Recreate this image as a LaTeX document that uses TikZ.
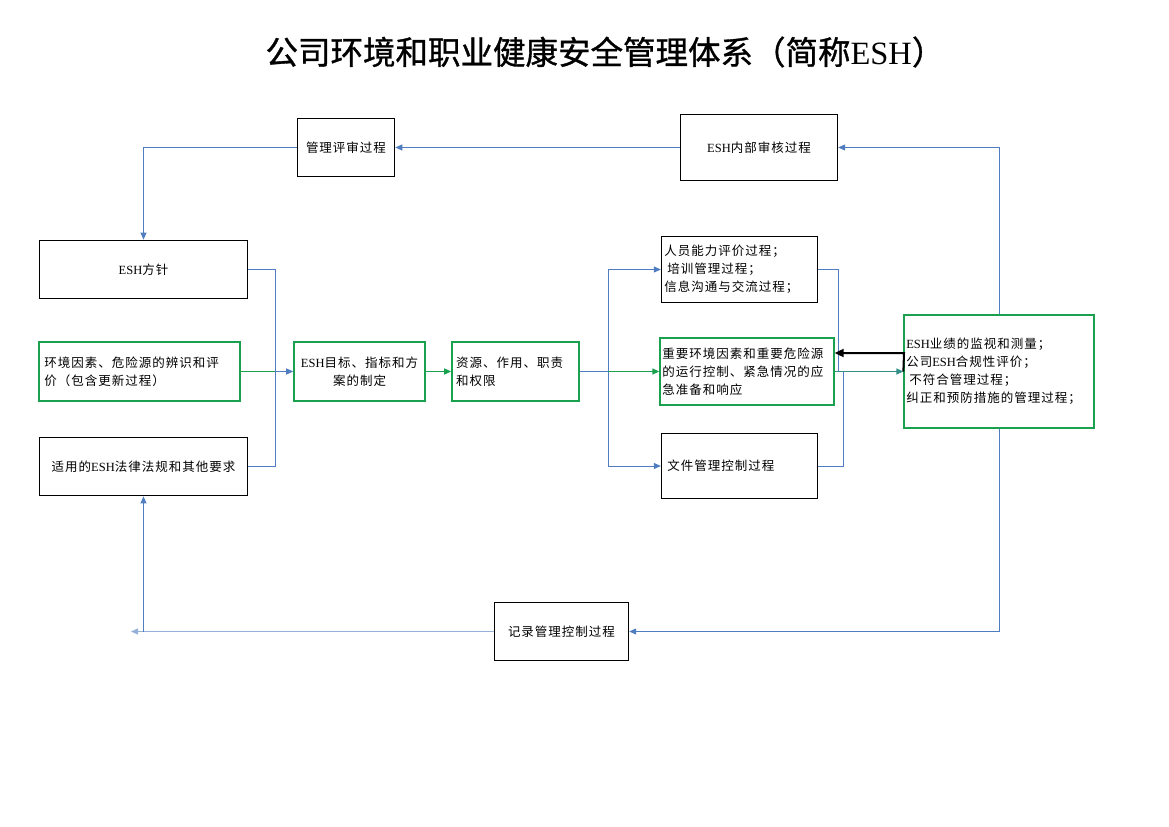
\documentclass[tikz,border=0pt]{standalone}
\usepackage{fontspec}
\newfontfamily\cjk[LetterSpace=8]{Noto Sans CJK SC}
\newfontfamily\cjktitle[FakeBold=1]{Noto Sans CJK SC}
\newfontfamily\lat{Liberation Serif}
\newcommand\esh{{\lat ESH}}
\usetikzlibrary{arrows.meta}
\definecolor{eblue}{HTML}{4F7DBF}
\definecolor{egreen}{HTML}{1AA150}
\begin{document}
\begin{tikzpicture}[x=1bp,y=-1bp,
 every node/.style={font=\cjk\fontsize{12.5bp}{18bp}\selectfont},
 bk/.style={draw=black, line width=0.9bp, rectangle, inner sep=0pt, fill=white},
 gb/.style={draw=egreen, line width=2bp, rectangle, inner sep=0pt, fill=white},
 bl/.style={draw=eblue, line width=1bp},
 gl/.style={draw=egreen, line width=1.2bp},
 tip/.style={-{Triangle[length=7bp,width=6bp]}}
]
\useasboundingbox (0,0) rectangle (1169,827);
\node[font=\cjktitle\fontsize{32.5bp}{36bp}\selectfont] (title) at (605,52) {公司环境和职业健康安全管理体系（简称{\lat ESH}）};

\node[bk, minimum width=98, minimum height=59] (mr) at (346,147.5) {管理评审过程};
\node[bk, minimum width=158, minimum height=67] (ia) at (759,147.5) {\esh 内部审核过程};
\node[bk, minimum width=209, minimum height=59] (pol) at (143.5,269.5) {\esh 方针};
\node[gb, minimum width=201, minimum height=60, text width=191, inner xsep=5, align=left] (env) at (139.5,371.5) {环境因素、危险源的辨识和评\\价（包含更新过程）};
\node[bk, minimum width=209, minimum height=59] (law) at (143.5,466.5) {适用的\esh 法律法规和其他要求};
\node[gb, minimum width=131, minimum height=60, text width=129, inner xsep=1, align=center] (obj) at (359.5,371.5) {\esh 目标、指标和方\\案的制定};
\node[gb, minimum width=127, minimum height=60, text width=119, inner xsep=4, align=left] (res) at (515.5,371.5) {资源、作用、职责\\和权限};
\node[bk, minimum width=157, minimum height=67, text width=151, inner xsep=3, align=left] (hr) at (739.5,269.5) {人员能力评价过程；\\\hspace{3bp}培训管理过程；\\信息沟通与交流过程；};
\node[gb, minimum width=174, minimum height=68, text width=170, inner xsep=2, align=left] (op) at (747,371.5) {重要环境因素和重要危险源\\的运行控制、紧急情况的应\\急准备和响应};
\node[bk, minimum width=157, minimum height=66, text width=145, inner xsep=6, align=left] (doc) at (739.5,466) {文件管理控制过程};
\node[gb, minimum width=190, minimum height=114, text width=186, inner xsep=2, align=left] (mon) at (999,371.5) {\esh 业绩的监视和测量；\\公司\esh 合规性评价；\\\hspace{3bp}不符合管理过程；\\纠正和预防措施的管理过程；};
\node[bk, minimum width=135, minimum height=59] (rec) at (561.5,631.5) {记录管理控制过程};

\coordinate (jx) at (275,371.5);
\coordinate (jy) at (608,371.5);
\coordinate (jr1) at (838,371.5);
\coordinate (jr2) at (843,371.5);
\coordinate (bkc) at (904,353);
\coordinate (ll) at (131,631.5);

\draw[bl,tip] (mon.north) |- (ia.east);
\draw[bl,tip] (ia.west) -- (mr.east);
\draw[bl,tip] (mr.west) -| (pol.north);
\draw[bl] (pol.east) -| (jx);
\draw[bl] (law.east) -| (jx);
\draw[gl] (env.east) -- (jx);
\draw[bl,tip] (jx) -- (obj.west);
\draw[gl,tip] (obj.east) -- (res.west);
\draw[bl] (res.east) -- (jy);
\draw[bl,tip] (jy) |- (hr.west);
\draw[bl,tip] (jy) |- (doc.west);
\draw[gl,tip] (jy) -- (op.west);
\draw[bl] (hr.east) -| (jr1);
\draw[bl] (doc.east) -| (jr2);
\draw[draw=eblue!50!egreen, line width=1.2bp, tip] (op.east) -- (mon.west);
\draw[black, line width=2bp, -{Triangle[length=9bp,width=8bp]}] (mon.west) -- (bkc) -- (bkc -| op.east);
\draw[bl,tip] (mon.south) |- (rec.east);
\draw[draw=eblue!60, line width=1bp, tip] (rec.west) -- (ll);
\draw[bl,tip] (law.south |- ll) -- (law.south);
\end{tikzpicture}
\end{document}
